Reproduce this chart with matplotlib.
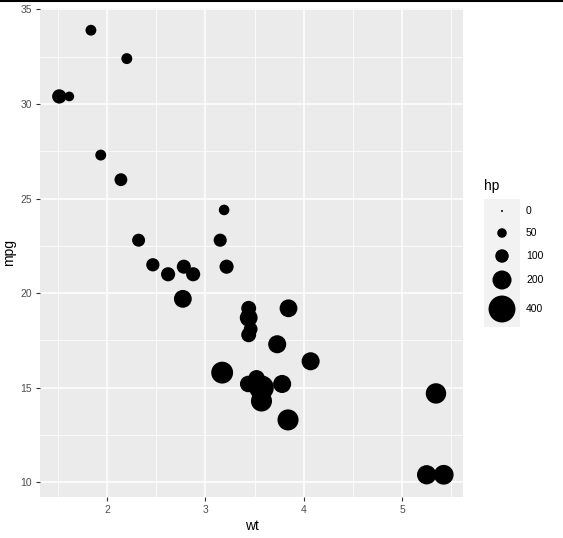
import matplotlib
matplotlib.use("Agg")
import matplotlib.pyplot as plt
from matplotlib.lines import Line2D

plt.rcParams["font.family"] = ["Liberation Sans", "DejaVu Sans"]

# mtcars: weight, mpg, horsepower
wt = [2.620, 2.875, 2.320, 3.215, 3.440, 3.460, 3.570, 3.190, 3.150, 3.440,
      3.440, 4.070, 3.730, 3.780, 5.250, 5.424, 5.345, 2.200, 1.615, 1.835,
      2.465, 3.520, 3.435, 3.840, 3.845, 1.935, 2.140, 1.513, 3.170, 2.770,
      3.570, 2.780]
mpg = [21.0, 21.0, 22.8, 21.4, 18.7, 18.1, 14.3, 24.4, 22.8, 19.2,
       17.8, 16.4, 17.3, 15.2, 10.4, 10.4, 14.7, 32.4, 30.4, 33.9,
       21.5, 15.5, 15.2, 13.3, 19.2, 27.3, 26.0, 30.4, 15.8, 19.7,
       15.0, 21.4]
hp = [110, 110, 93, 110, 175, 105, 245, 62, 95, 123,
      123, 180, 180, 180, 205, 215, 230, 66, 52, 65,
      97, 150, 150, 245, 175, 66, 91, 113, 264, 175,
      335, 109]

legend_breaks = [0, 50, 100, 200, 400]

SIZE_K = 0.94  # marker area (pt^2) per hp, like scale_size_area


def area(v):
    return max(v * SIZE_K, 2.0)


fig = plt.figure(figsize=(5.63, 5.38), dpi=100)
ax = fig.add_axes([40 / 563, 1 - 497 / 538, 423 / 563, 489 / 538])
ax.set_facecolor("#EBEBEB")
for s in ax.spines.values():
    s.set_visible(False)

ax.scatter(wt, mpg, s=[area(v) for v in hp], c="black", linewidths=0, zorder=3)

ax.set_xlim(1.317, 5.620)
ax.set_ylim(9.225, 35.075)
ax.set_xticks([2, 3, 4, 5])
ax.set_yticks([10, 15, 20, 25, 30, 35])
ax.set_xticks([1.5, 2.5, 3.5, 4.5, 5.5], minor=True)
ax.set_yticks([12.5, 17.5, 22.5, 27.5, 32.5], minor=True)
ax.grid(which="major", color="white", lw=1.1, zorder=0)
ax.grid(which="minor", color="white", lw=0.55, zorder=0)
ax.set_axisbelow(True)
ax.tick_params(which="major", length=3, width=0.8, color="#333333",
               labelcolor="#4D4D4D", labelsize=7.5, pad=3)
ax.tick_params(which="minor", length=0)
ax.set_xlabel("wt", fontsize=10, labelpad=3)
ax.set_ylabel("mpg", fontsize=10, labelpad=3)

# legend drawn by hand, ggplot style
lax = fig.add_axes([484 / 563, 1 - 327 / 538, 36 / 563, 128 / 538])
lax.set_facecolor("#F2F2F2")
for s in lax.spines.values():
    s.set_visible(False)
lax.set_xticks([])
lax.set_yticks([])
lax.set_xlim(0, 1)
lax.set_ylim(327, 199)
key_y = [211, 233, 256, 280, 309]
lax.scatter([0.5] * len(legend_breaks), key_y,
            s=[area(v) for v in legend_breaks], c="black", linewidths=0)
for v, y in zip(legend_breaks, key_y):
    fig.text(526 / 563, 1 - y / 538, str(v), fontsize=7.5, color="black",
             va="center", ha="left")
fig.text(484 / 563, 1 - 186 / 538, "hp", fontsize=10, va="center", ha="left")

fig.add_artist(Line2D([0, 1], [1 - 0.5 / 538, 1 - 0.5 / 538],
                      transform=fig.transFigure, color="black", lw=1.5))

fig.savefig("out.png", dpi=100)
